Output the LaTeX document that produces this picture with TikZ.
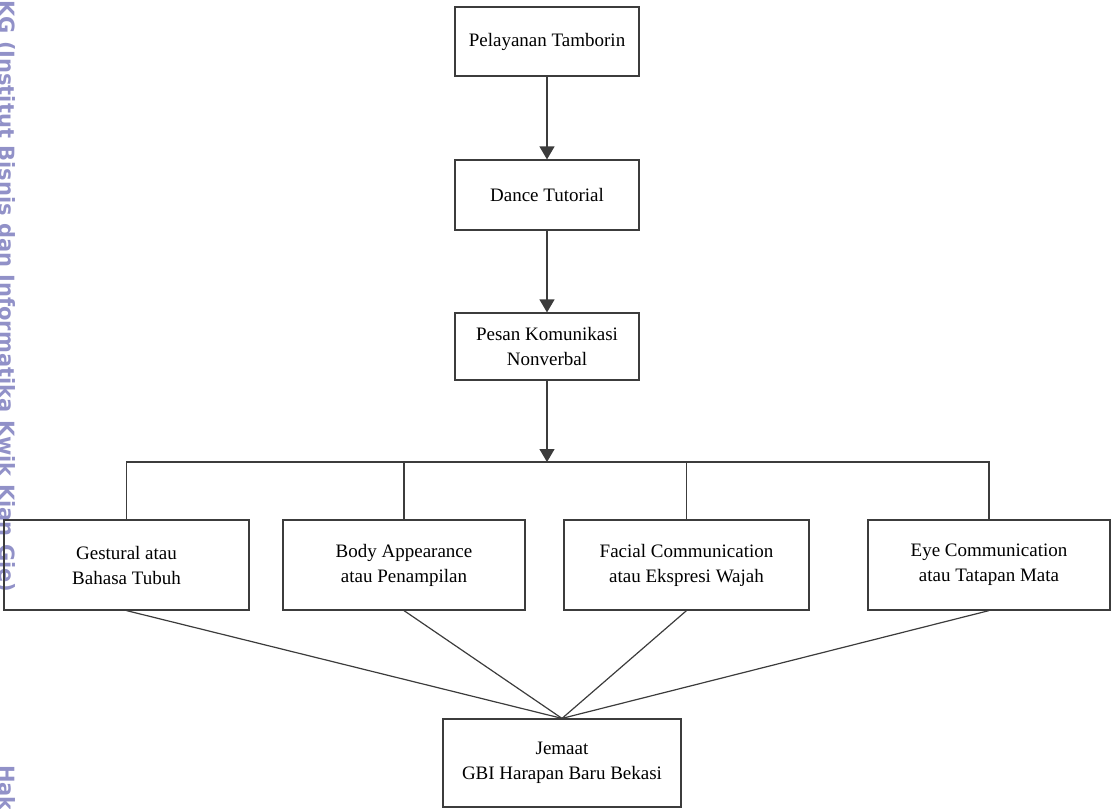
\documentclass[tikz,border=0pt]{standalone}
\usepackage{fontspec}
\setmainfont{Liberation Serif}
\newfontfamily\tandaair{DejaVu Sans}
\usetikzlibrary{arrows.meta}
\definecolor{garis}{RGB}{60,60,60}
\definecolor{ungu}{RGB}{145,145,200}
\tikzset{
  kotak/.style={draw=garis, line width=1.2pt, align=center, inner sep=0pt,
    font=\fontsize{19}{25}\selectfont},
  panah/.style={draw=garis, line width=1.2pt, -{Triangle[width=15pt,length=13pt]}},
  sambung/.style={draw=garis, line width=1.2pt},
  tanda/.style={rotate=-90, anchor=base west, text=ungu, inner sep=0pt,
    font=\tandaair\bfseries\fontsize{21}{21}\selectfont}
}
\begin{document}
\begin{tikzpicture}[x=1pt, y=-1pt, line join=miter]
  \useasboundingbox (0,0) rectangle (1112,809);
  % tanda air di tepi kiri
  \node[tanda] (tandaatas) at (-0.5,0) {KG (Institut Bisnis dan Informatika Kwik Kian Gie)};
  \node[tanda] (tandabawah) at (-0.5,765) {Hak Cipta Dilindungi Undang-Undang};
  % kolom tengah
  \node[kotak, minimum width=184pt, minimum height=69pt] (tamborin) at (547,41.5) {Pelayanan Tamborin};
  \node[kotak, minimum width=184pt, minimum height=70pt] (tutorial) at (547,195) {Dance Tutorial};
  \node[kotak, minimum width=184pt, minimum height=67pt] (pesan) at (547,346.5) {Pesan Komunikasi\\Nonverbal};
  % empat jenis pesan
  \node[kotak, minimum width=245pt, minimum height=90pt] (gestur) at (126.5,565) {Gestural atau\\Bahasa Tubuh};
  \node[kotak, minimum width=242pt, minimum height=90pt] (tubuh) at (404,565) {Body Appearance\\atau Penampilan};
  \node[kotak, minimum width=245pt, minimum height=90pt] (wajah) at (686.5,565) {Facial Communication\\atau Ekspresi Wajah};
  \node[kotak, minimum width=242pt, minimum height=90pt] (mata) at (989,565) {Eye Communication\\atau Tatapan Mata};
  % jemaat di bawah
  \node[kotak, minimum width=238pt, minimum height=88pt] (jemaat) at (562,763) {Jemaat\\GBI Harapan Baru Bekasi};
  % panah-panah
  \draw[panah] (tamborin) -- (tutorial);
  \draw[panah] (tutorial) -- (pesan);
  \coordinate (cabang) at (547,462);
  \draw[panah] (pesan) -- (cabang);
  \draw[sambung] (gestur.north) |- (cabang) -| (mata.north);
  \draw[sambung] (tubuh.north) -- (tubuh.north |- cabang);
  \draw[sambung] (wajah.north) -- (wajah.north |- cabang);
  % garis menuju jemaat
  \draw[sambung] (gestur.south) -- (jemaat.north);
  \draw[sambung] (tubuh.south) -- (jemaat.north);
  \draw[sambung] (wajah.south) -- (jemaat.north);
  \draw[sambung] (mata.south) -- (jemaat.north);
\end{tikzpicture}
\end{document}
